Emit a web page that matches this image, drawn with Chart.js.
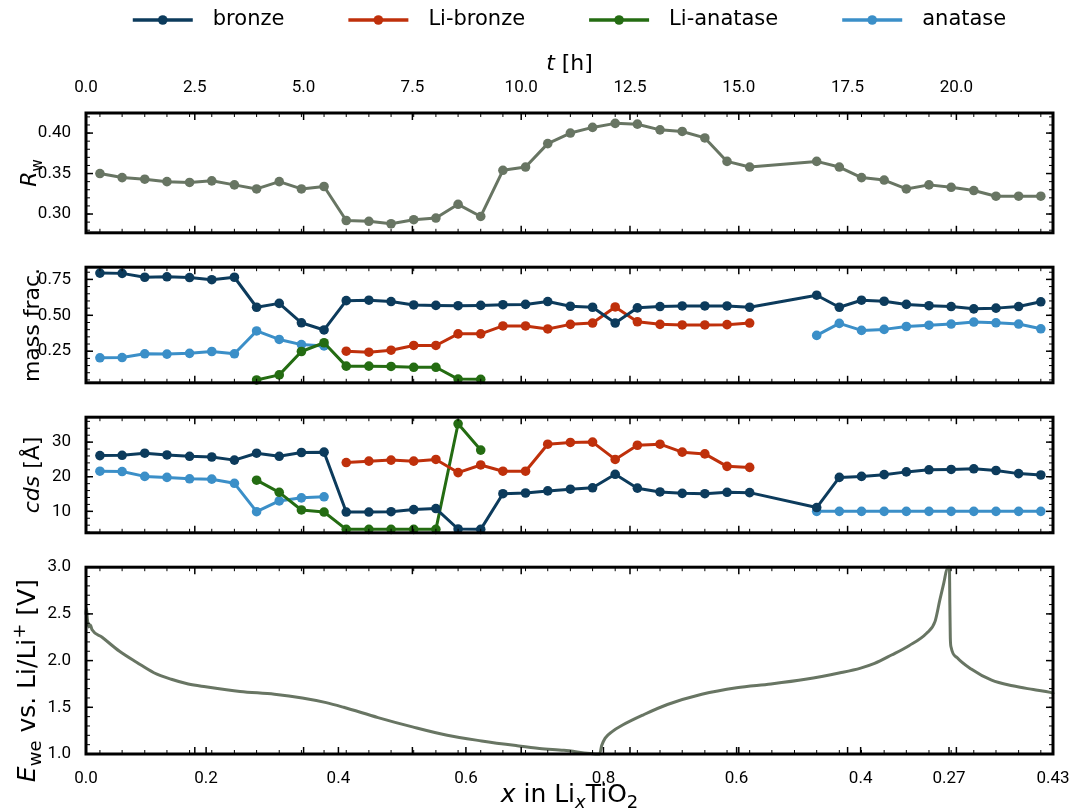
<!DOCTYPE html>
<html>
<head>
<meta charset="utf-8">
<script src="https://cdn.jsdelivr.net/npm/chart.js@4.4.1/dist/chart.umd.min.js"></script>
<style>
  body { margin: 0; background: #fff; }
  #wrap { position: relative; width: 1071px; height: 809px; overflow: hidden; }
  #wrap canvas { position: absolute; left: 0; }
</style>
</head>
<body>
<div id="wrap">
  <canvas id="cRw" width="1100" height="250" style="top:0"></canvas>
  <canvas id="cFrac" width="1100" height="150" style="top:250px"></canvas>
  <canvas id="cCds" width="1100" height="150" style="top:400px"></canvas>
  <canvas id="cEwe" width="1100" height="259" style="top:550px"></canvas>
</div>
<script>
const FONT = "'DejaVu Sans', sans-serif";
const TICK_FONT = "Roboto, 'DejaVu Sans', sans-serif";

// scan times in hours (two scans missing around 16 h)
const scanTimes = [0.32, 0.83, 1.35, 1.86, 2.38, 2.89, 3.41, 3.92, 4.44, 4.95,
  5.47, 5.98, 6.50, 7.01, 7.53, 8.04, 8.55, 9.07, 9.58, 10.10,
  10.61, 11.13, 11.64, 12.16, 12.67, 13.19, 13.70, 14.22, 14.73, 15.25,
  15.76, 16.28, 16.79, 17.31, 17.82, 18.34, 18.85, 19.37, 19.88, 20.40,
  20.91, 21.43, 21.94];
const hourTicks = [0, 2.5, 5, 7.5, 10, 12.5, 15, 17.5, 20];

const phaseNames = ['bronze', 'Li-bronze', 'Li-anatase', 'anatase'];
const phaseColors = ['#0c3b5c', '#bf300b', '#246c12', '#3b8fc8'];
const rwColor = '#687563';

const rw = [0.350, 0.345, 0.343, 0.340, 0.339, 0.341, 0.336, 0.331, 0.340, 0.331,
  0.334, 0.292, 0.291, 0.288, 0.293, 0.295, 0.312, 0.297, 0.354, 0.358,
  0.387, 0.400, 0.407, 0.412, 0.411, 0.404, 0.402, 0.394, 0.365, 0.358,
  null, null, 0.365, 0.358, 0.345, 0.342, 0.331, 0.336, 0.333, 0.329,
  0.322, 0.322, 0.322];

const fracBronze = [0.794, 0.792, 0.765, 0.768, 0.763, 0.748, 0.765, 0.556, 0.583, 0.448,
  0.398, 0.602, 0.605, 0.596, 0.572, 0.569, 0.567, 0.569, 0.574, 0.576,
  0.596, 0.563, 0.556, 0.446, 0.552, 0.561, 0.565, 0.565, 0.565, 0.556,
  null, null, 0.640, 0.556, 0.605, 0.598, 0.576, 0.567, 0.561, 0.545,
  0.550, 0.561, 0.594];
const fracLiBronze = [null, null, null, null, null, null, null, null, null, null,
  null, 0.250, 0.243, 0.257, 0.290, 0.290, 0.371, 0.371, 0.426, 0.426,
  0.405, 0.437, 0.446, 0.558, 0.455, 0.437, 0.433, 0.433, 0.435, 0.446,
  null, null, null, null, null, null, null, null, null, null,
  null, null, null];
const fracLiAnatase = [null, null, null, null, null, null, null, 0.050, 0.085, 0.248,
  0.309, 0.146, 0.146, 0.144, 0.138, 0.138, 0.056, 0.054, null, null,
  null, null, null, null, null, null, null, null, null, null,
  null, null, null, null, null, null, null, null, null, null,
  null, null, null];
const fracAnatase = [0.204, 0.206, 0.232, 0.230, 0.235, 0.248, 0.232, 0.391, 0.332, 0.296,
  0.287, null, null, null, null, null, null, null, null, null,
  null, null, null, null, null, null, null, null, null, null,
  null, null, 0.360, 0.444, 0.395, 0.402, 0.422, 0.431, 0.439, 0.453,
  0.448, 0.439, 0.406];

const cdsBronze = [26.1, 26.2, 26.8, 26.3, 25.9, 25.7, 24.8, 26.8, 25.9, 27.0,
  27.1, 9.8, 9.8, 9.9, 10.5, 10.8, 4.9, 4.8, 15.1, 15.3,
  15.9, 16.4, 16.8, 20.7, 16.7, 15.6, 15.2, 15.1, 15.5, 15.4,
  null, null, 11.1, 19.8, 20.1, 20.6, 21.4, 22.0, 22.1, 22.3,
  21.8, 20.9, 20.5];
const cdsLiBronze = [null, null, null, null, null, null, null, null, null, null,
  null, 24.1, 24.5, 24.8, 24.5, 25.0, 21.2, 23.4, 21.6, 21.6,
  29.4, 29.9, 30.0, 25.0, 29.1, 29.4, 27.1, 26.6, 23.0, 22.7,
  null, null, null, null, null, null, null, null, null, null,
  null, null, null];
const cdsLiAnatase = [null, null, null, null, null, null, null, 19.0, 15.5, 10.4,
  9.8, 4.8, 4.8, 4.8, 4.8, 4.8, 35.3, 27.7, null, null,
  null, null, null, null, null, null, null, null, null, null,
  null, null, null, null, null, null, null, null, null, null,
  null, null, null];
const cdsAnatase = [21.6, 21.5, 20.1, 19.8, 19.4, 19.3, 18.1, 9.9, 13.0, 13.9,
  14.2, null, null, null, null, null, null, null, null, null,
  null, null, null, null, null, null, null, null, null, null,
  null, null, 10.0, 10.0, 10.0, 10.0, 10.0, 10.0, 10.0, 10.0,
  10.0, 10.0, 10.0];

// electrochemistry: time [h] and potential [V]
const eweTime = [0, 0.01, 0.03, 0.06, 0.10, 0.14, 0.37, 0.77, 1.17, 1.56, 1.96,
  2.35, 2.75, 3.54, 4.33, 4.97, 5.52, 5.92, 6.71, 7.50, 8.30,
  9.09, 9.88, 10.42, 10.98, 11.80, 11.85, 11.93, 12.09, 12.33, 12.81,
  13.36, 14.15, 14.95, 15.74, 16.53, 17.33, 17.80, 18.12, 18.51, 18.91,
  19.31, 19.51, 19.62, 19.71, 19.80, 19.84, 19.85, 19.86, 19.88, 20.02,
  20.34, 20.81, 21.29, 21.77, 22.16, 22.22];
const eweVolt = [2.50, 2.56, 2.45, 2.36, 2.38, 2.33, 2.25, 2.10, 1.98, 1.87, 1.80,
  1.75, 1.72, 1.67, 1.64, 1.60, 1.55, 1.50, 1.39, 1.29, 1.20,
  1.14, 1.09, 1.06, 1.04, 1.00, 1.09, 1.17, 1.24, 1.31, 1.42,
  1.53, 1.64, 1.71, 1.75, 1.80, 1.87, 1.92, 1.97, 2.06, 2.16,
  2.29, 2.42, 2.65, 2.83, 3.00, 3.00, 2.60, 2.25, 2.14, 2.03,
  1.91, 1.79, 1.73, 1.69, 1.66, 1.65];

// Li content x at the turning points of the cycle
const xLabelHours = [0, 2.76, 5.80, 8.73, 11.89, 14.95, 17.80, 19.83, 22.22];
const xLabels = ['0.0', '0.2', '0.4', '0.6', '0.8', '0.6', '0.4', '0.27', '0.43'];

const rwTicks = [0.30, 0.35, 0.40];
const fracTicks = [0.25, 0.50, 0.75];
const cdsTicks = [10, 20, 30];
const eweTicks = [1.0, 1.5, 2.0, 2.5, 3.0];

const T_MAX = 22.22;
const PAD_RIGHT = 47;

function series(values) {
  return scanTimes.map((t, i) => ({ x: t, y: values[i] }));
}

function lineSet(label, values, color, spanGaps) {
  return {
    label: label,
    data: series(values),
    borderColor: color,
    backgroundColor: color,
    borderWidth: 3,
    pointRadius: 4.8,
    pointBorderWidth: 0,
    pointBackgroundColor: color,
    spanGaps: spanGaps,
    clip: 6
  };
}

function phaseSets(bronze, liBronze, liAnatase, anatase) {
  return [
    lineSet(phaseNames[0], bronze, phaseColors[0], true),
    lineSet(phaseNames[1], liBronze, phaseColors[1], false),
    lineSet(phaseNames[2], liAnatase, phaseColors[2], false),
    lineSet(phaseNames[3], anatase, phaseColors[3], false)
  ];
}

// text with italic / sub / superscript pieces, centred on (x, y)
function richText(ctx, parts, size, x, y, rotate) {
  const fontFor = p => (p.it ? 'italic ' : '') + ((p.sub || p.sup) ? Math.round(size * 0.7) : size) + 'px ' + FONT;
  let total = 0;
  for (const p of parts) {
    ctx.font = fontFor(p);
    total += ctx.measureText(p.t).width;
  }
  ctx.save();
  ctx.translate(x, y);
  if (rotate) ctx.rotate(-Math.PI / 2);
  ctx.textAlign = 'left';
  ctx.textBaseline = 'alphabetic';
  ctx.fillStyle = '#000';
  let cx = -total / 2;
  for (const p of parts) {
    ctx.font = fontFor(p);
    const dy = p.sub ? size * 0.25 : (p.sup ? -size * 0.42 : 0);
    ctx.fillText(p.t, cx, dy);
    cx += ctx.measureText(p.t).width;
  }
  ctx.restore();
}

function drawLegend(ctx, cx, cy) {
  const size = 21, lineLen = 60, textGap = 20, itemGap = 64;
  ctx.font = size + 'px ' + FONT;
  const widths = phaseNames.map(n => ctx.measureText(n).width);
  let total = 0;
  widths.forEach((w, i) => { total += lineLen + textGap + w + (i ? itemGap : 0); });
  let x = cx - total / 2;
  phaseNames.forEach((name, i) => {
    ctx.strokeStyle = phaseColors[i];
    ctx.fillStyle = phaseColors[i];
    ctx.lineWidth = 3.5;
    ctx.beginPath();
    ctx.moveTo(x, cy);
    ctx.lineTo(x + lineLen, cy);
    ctx.stroke();
    ctx.beginPath();
    ctx.arc(x + lineLen / 2, cy, 4.8, 0, Math.PI * 2);
    ctx.fill();
    ctx.fillStyle = '#000';
    ctx.textAlign = 'left';
    ctx.textBaseline = 'middle';
    ctx.fillText(name, x + lineLen + textGap, cy);
    x += lineLen + textGap + widths[i] + itemGap;
  });
}

// boxed frame with inward ticks on all four sides, plus axis titles
const framePlugin = {
  id: 'frame',
  afterDraw(chart, args, opts) {
    const { ctx, chartArea: a, scales: { x, y } } = chart;
    ctx.save();
    ctx.strokeStyle = '#000';
    const seg = (x0, y0, x1, y1) => { ctx.beginPath(); ctx.moveTo(x0, y0); ctx.lineTo(x1, y1); ctx.stroke(); };

    ctx.lineWidth = 1;
    for (const t of scanTimes) {
      const px = x.getPixelForValue(t);
      seg(px, a.top, px, a.top + 4);
      seg(px, a.bottom, px, a.bottom - 4);
    }
    ctx.lineWidth = 1.5;
    for (const t of hourTicks) {
      const px = x.getPixelForValue(t);
      seg(px, a.top, px, a.top + 7);
      seg(px, a.bottom, px, a.bottom - 7);
    }
    if (opts.labelTicks) {
      for (const t of xLabelHours) {
        const px = x.getPixelForValue(t);
        seg(px, a.bottom, px, a.bottom - 7);
      }
    }
    ctx.lineWidth = 1;
    for (let v = opts.minorStart; v <= y.max; v += opts.minorStep) {
      if (v < y.min) continue;
      const py = y.getPixelForValue(v);
      seg(a.left, py, a.left + 4, py);
      seg(a.right, py, a.right - 4, py);
    }
    ctx.lineWidth = 1.5;
    for (const v of opts.major) {
      const py = y.getPixelForValue(v);
      seg(a.left, py, a.left + 7, py);
      seg(a.right, py, a.right - 7, py);
    }
    ctx.lineWidth = 3;
    ctx.strokeRect(a.left, a.top, a.right - a.left, a.bottom - a.top);

    richText(ctx, opts.title, opts.titleSize || 22, opts.titleX, (a.top + a.bottom) / 2 + (opts.titleDy || 0), true);
    if (opts.legend) {
      drawLegend(ctx, (a.left + a.right) / 2, 20);
      richText(ctx, [{ t: 't', it: true }, { t: ' [h]' }], 22, (a.left + a.right) / 2, 70, false);
    }
    if (opts.bottomTitle) {
      richText(ctx, [{ t: 'x', it: true }, { t: ' in Li' }, { t: 'x', it: true, sub: true }, { t: 'TiO' }, { t: '2', sub: true }],
        25, (a.left + a.right) / 2, 252, false);
    }
    ctx.restore();
  }
};

function yScale(min, max, ticks, digits) {
  return {
    type: 'linear',
    min: min,
    max: max,
    afterFit: s => { s.width = 86; },
    afterBuildTicks: s => { s.ticks = ticks.map(v => ({ value: v })); },
    grid: { display: false },
    border: { display: false },
    ticks: {
      padding: 7,
      color: '#000',
      font: { family: TICK_FONT, size: 17 },
      callback: v => Number(v).toFixed(digits)
    }
  };
}

function xScale(position) {
  const s = {
    type: 'linear',
    min: 0,
    max: T_MAX,
    grid: { display: false },
    border: { display: false },
    display: position !== null,
    position: position || 'bottom',
    ticks: {
      padding: 7,
      color: '#000',
      autoSkip: false,
      maxRotation: 0,
      font: { family: TICK_FONT, size: 17 }
    }
  };
  if (position === 'top') {
    s.afterFit = sc => { sc.height = 113; };
    s.afterBuildTicks = sc => { sc.ticks = hourTicks.map(v => ({ value: v })); };
    s.ticks.callback = v => Number(v).toFixed(1);
  } else if (position === 'bottom') {
    s.afterFit = sc => { sc.height = 55; };
    s.afterBuildTicks = sc => { sc.ticks = xLabelHours.map(v => ({ value: v })); };
    s.ticks.callback = (v, i) => xLabels[i];
  }
  return s;
}

function makeChart(id, datasets, xs, ys, padding, frameOpts) {
  return new Chart(document.getElementById(id), {
    type: 'line',
    data: { datasets: datasets },
    options: {
      responsive: false,
      animation: false,
      devicePixelRatio: 1,
      layout: { padding: padding },
      scales: { x: xs, y: ys },
      elements: { line: { borderCapStyle: 'round', borderJoinStyle: 'round' } },
      plugins: {
        legend: { display: false },
        tooltip: { enabled: false },
        frame: frameOpts
      }
    },
    plugins: [framePlugin]
  });
}

makeChart('cRw',
  [lineSet('Rw', rw, rwColor, true)],
  xScale('top'),
  yScale(0.2768, 0.4248, rwTicks, 2),
  { top: 0, bottom: 14, left: 0, right: PAD_RIGHT },
  { major: rwTicks, minorStart: 0.28, minorStep: 0.01, titleX: 36,
    title: [{ t: 'R', it: true }, { t: 'w', sub: true }], legend: true });

makeChart('cFrac',
  phaseSets(fracBronze, fracLiBronze, fracLiAnatase, fracAnatase),
  xScale(null),
  yScale(0.03, 0.835, fracTicks, 2),
  { top: 14, bottom: 11, left: 0, right: PAD_RIGHT },
  { major: fracTicks, minorStart: 0.05, minorStep: 0.05, titleX: 39,
    title: [{ t: 'mass frac.' }] });

makeChart('cCds',
  phaseSets(cdsBronze, cdsLiBronze, cdsLiAnatase, cdsAnatase),
  xScale(null),
  yScale(3.8, 37.2, cdsTicks, 0),
  { top: 15, bottom: 11, left: 0, right: PAD_RIGHT },
  { major: cdsTicks, minorStart: 4, minorStep: 2, titleX: 39,
    title: [{ t: 'cds', it: true }, { t: ' [Å]' }] });

makeChart('cEwe',
  [{
    label: 'Ewe',
    data: eweTime.map((t, i) => ({ x: t, y: eweVolt[i] })),
    borderColor: rwColor,
    borderWidth: 3,
    pointRadius: 0,
    cubicInterpolationMode: 'monotone',
    clip: 3
  }],
  xScale('bottom'),
  yScale(1.0, 3.0, eweTicks, 1),
  { top: 17, bottom: 0, left: 0, right: PAD_RIGHT },
  { major: eweTicks, minorStart: 1.1, minorStep: 0.1, titleX: 35, titleDy: 20, titleSize: 25, labelTicks: true,
    title: [{ t: 'E', it: true }, { t: 'we', sub: true }, { t: ' vs. Li/Li' }, { t: '+', sup: true }, { t: ' [V]' }],
    bottomTitle: true });
</script>
</body>
</html>
